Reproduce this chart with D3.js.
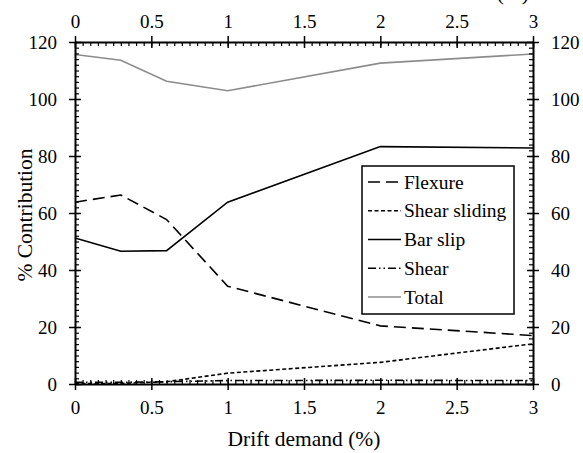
<!DOCTYPE html>
<html><head><meta charset="utf-8">
<script src="https://cdn.jsdelivr.net/npm/d3@7"></script>
</head><body style="margin:0"><svg id="c" width="583" height="453" style="display:block;background:#fff"></svg>
<script>
const drift = [0, 0.3, 0.6, 1, 2, 3];
const flexure = [63.8, 66.3, 57.7, 34.3, 20.4, 17.0];
const shearSliding = [0.2, 0.2, 0.8, 3.8, 7.6, 14.1];
const barSlip = [51.2, 46.6, 46.8, 63.8, 83.3, 82.8];
const shear = [0.6, 0.6, 0.8, 1.2, 1.3, 1.2];
const total = [115.6, 113.6, 106.2, 102.9, 112.6, 115.8];
const xTicks = [0, 0.5, 1, 1.5, 2, 2.5, 3];
const yTicks = [0, 20, 40, 60, 80, 100, 120];
const seriesNames = ["Flexure", "Shear sliding", "Bar slip", "Shear", "Total"];

const series = [
  {name: seriesNames[0], values: flexure, color: "#000", dash: "12,6", w: 1.6},
  {name: seriesNames[1], values: shearSliding, color: "#000", dash: "4,2.5", w: 1.6},
  {name: seriesNames[2], values: barSlip, color: "#000", dash: null, w: 1.6},
  {name: seriesNames[3], values: shear, color: "#000", dash: "8,3,1.5,3,1.5,3", w: 1.6},
  {name: seriesNames[4], values: total, color: "#8c8c8c", dash: null, w: 1.6}
];

const FF = '"Liberation Serif"';
const svg = d3.select("#c");
const L = 75, R = 533, T = 42, B = 384;
const x = d3.scaleLinear().domain([0, 3]).range([L, R]);
const y = d3.scaleLinear().domain([0, 120]).range([B, T]);

// lines
const line = d3.line().x((d, i) => x(drift[i])).y(d => y(d));
series.forEach(s => {
  svg.append("path").attr("d", line(s.values)).attr("fill", "none")
    .attr("stroke", s.color).attr("stroke-width", s.w)
    .attr("stroke-dasharray", s.dash);
});

const xMinor = d3.range(0, 3.0001, 0.05);
const yMinor = d3.range(0, 120.001, 2);

// minor ticks (inside)
[[d3.axisBottom(x), B, -4], [d3.axisTop(x), T, 4]].forEach(([ax, pos, dir]) => {
  const g = svg.append("g").attr("transform", `translate(0,${pos})`)
    .call(ax.tickValues(xMinor).tickSize(Math.abs(dir)).tickFormat(""));
  g.select(".domain").remove();
  g.selectAll("text").remove();
  g.selectAll("line").attr("y2", dir).attr("stroke", "#000").attr("stroke-width", 1.2);
});
[[d3.axisLeft(y), L, 4], [d3.axisRight(y), R, -4]].forEach(([ax, pos, dir]) => {
  const g = svg.append("g").attr("transform", `translate(${pos},0)`)
    .call(ax.tickValues(yMinor).tickSize(4).tickFormat(""));
  g.select(".domain").remove();
  g.selectAll("text").remove();
  g.selectAll("line").attr("x2", dir).attr("stroke", "#000").attr("stroke-width", 1.2);
});

function styleAxis(g) {
  g.attr("font-family", null).attr("font-size", null);
  g.selectAll("path.domain").attr("stroke", "#000").attr("stroke-width", 2);
  g.selectAll("line").attr("stroke", "#000").attr("stroke-width", 1.5);
  g.selectAll("text").attr("font-size", 19).attr("fill", "#000");
}
// major ticks crossing
const fmt = d3.format("");
const gb = svg.append("g").attr("transform", `translate(0,${B})`)
  .call(d3.axisBottom(x).tickValues(xTicks).tickSizeInner(6).tickSizeOuter(0).tickPadding(11).tickFormat(fmt));
styleAxis(gb);
gb.selectAll(".tick line").attr("y1", -6);
const gt = svg.append("g").attr("transform", `translate(0,${T})`)
  .call(d3.axisTop(x).tickValues(xTicks).tickSizeInner(6).tickSizeOuter(0).tickPadding(8).tickFormat(fmt));
styleAxis(gt);
gt.selectAll(".tick line").attr("y1", 6);
const gl = svg.append("g").attr("transform", `translate(${L},0)`)
  .call(d3.axisLeft(y).tickValues(yTicks).tickSizeInner(6).tickSizeOuter(0).tickPadding(12).tickFormat(fmt));
styleAxis(gl);
gl.selectAll(".tick line").attr("x1", 6);
const gr = svg.append("g").attr("transform", `translate(${R},0)`)
  .call(d3.axisRight(y).tickValues(yTicks).tickSizeInner(6).tickSizeOuter(0).tickPadding(12).tickFormat(fmt));
styleAxis(gr);
gr.selectAll(".tick line").attr("x1", -6);

// titles
svg.append("text").attr("x", 304).attr("y", 446).attr("text-anchor", "middle")
  .attr("font-size", 21.5).text("Drift demand (%)");
svg.append("text").attr("x", 529).attr("y", -0.5).attr("text-anchor", "end")
  .attr("font-size", 21.5).text("Drift demand (%)");
svg.append("text").attr("transform", `translate(32,215) rotate(-90)`)
  .attr("text-anchor", "middle").attr("font-size", 21.5).text("% Contribution");

// legend
const lg = svg.append("g");
lg.append("rect").attr("x", 362).attr("y", 166).attr("width", 152).attr("height", 148)
  .attr("fill", "#fff").attr("stroke", "#000").attr("stroke-width", 1.5);
const ly = d3.scalePoint().domain(seriesNames).range([182, 297]);
series.forEach(s => {
  const yy = ly(s.name);
  lg.append("line").attr("x1", 368).attr("x2", 401).attr("y1", yy).attr("y2", yy)
    .attr("stroke", s.color).attr("stroke-width", s.w).attr("stroke-dasharray", s.dash);
  lg.append("text").attr("x", 404).attr("y", yy + 6.5).attr("font-size", 19.5).text(s.name);
});

svg.selectAll("text").style("font-family", FF).attr("fill", "#000");
</script></body></html>
